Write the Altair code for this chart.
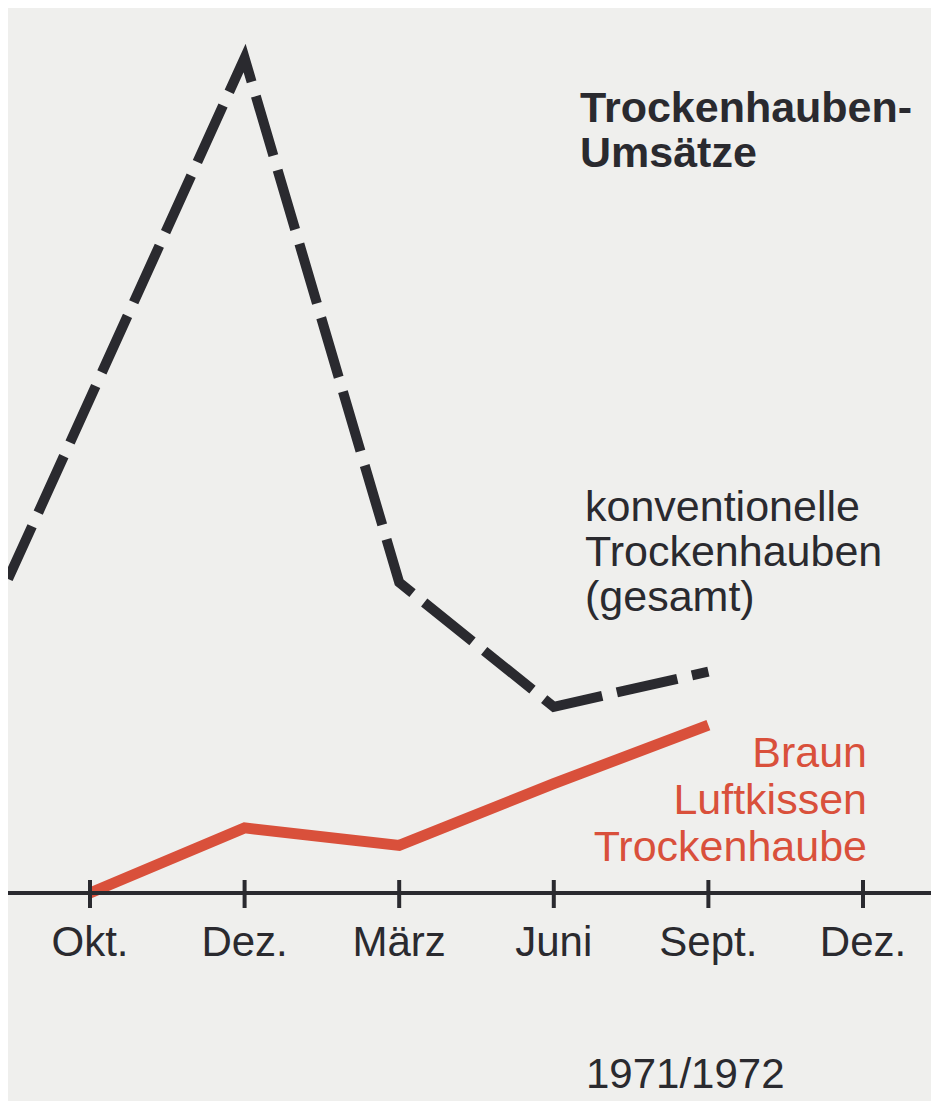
import altair as alt
import pandas as pd

# ---- data (0 = axis line, 100 = Dez peak) ----
tick_pos = [0, 1, 2, 3, 4, 5]
tick_labels = ["Okt.", "Dez.", "März", "Juni", "Sept.", "Dez."]

conv_x = [-0.53, 1, 2, 3, 4]
conv_y = [37.6, 100.0, 37.2, 22.3, 26.5]

braun_x = [0, 1, 2, 3, 4]
braun_y = [0.0, 7.8, 5.7, 13.1, 20.1]

title_lines = ["Trockenhauben-", "Umsätze"]
conv_lines = ["konventionelle", "Trockenhauben", "(gesamt)"]
braun_lines = ["Braun", "Luftkissen", "Trockenhaube"]
year_label = "1971/1972"

W, H = 923, 1093
DARK = "#2a2a2f"
RED = "#d9503b"
FONT = "Liberation Sans"

xs = alt.Scale(domain=[-0.5304, 5.440], nice=False, zero=False)
ys = alt.Scale(domain=[-24.91, 105.99], nice=False, zero=False)

conv_df = pd.DataFrame({"x": conv_x, "y": conv_y})
braun_df = pd.DataFrame({"x": braun_x, "y": braun_y})
tick_df = pd.DataFrame({"x": tick_pos, "label": tick_labels})

X = lambda: alt.X("x:Q", scale=xs, axis=None)
Y = lambda: alt.Y("y:Q", scale=ys, axis=None)

axis_line = alt.Chart(pd.DataFrame({"y": [0]})).mark_rule(
    color=DARK, strokeWidth=4
).encode(x=alt.value(0), x2=alt.value(W), y=alt.Y("y:Q", scale=ys, axis=None))

ticks = alt.Chart(tick_df).mark_rule(color=DARK, strokeWidth=4).encode(
    x=X(), y=alt.value(872), y2=alt.value(900)
)

tick_text = alt.Chart(tick_df).mark_text(
    font=FONT, fontSize=42, color=DARK, align="center", baseline="alphabetic"
).encode(x=X(), y=alt.value(948), text="label:N")

conv_line = alt.Chart(conv_df).mark_line(
    color=DARK, strokeWidth=10, strokeDash=[62, 15], strokeDashOffset=4,
    strokeCap="butt", strokeJoin="miter", clip=True
).encode(x=X(), y=Y())

braun_line = alt.Chart(braun_df).mark_line(
    color=RED, strokeWidth=11, strokeCap="butt", strokeJoin="miter"
).encode(x=X(), y=Y())


def text_block(lines, x, ys_, size, color, weight="normal", align="left"):
    layers = []
    for t, yy in zip(lines, ys_):
        layers.append(
            alt.Chart(pd.DataFrame({"t": [t]})).mark_text(
                font=FONT, fontSize=size, color=color, fontWeight=weight,
                align=align, baseline="alphabetic"
            ).encode(x=alt.value(x), y=alt.value(yy), text="t:N")
        )
    return layers


texts = []
texts += text_block(title_lines, 572, [114, 159], 43, DARK, weight="bold")
texts += text_block(conv_lines, 577, [513, 558, 603], 43, DARK)
texts += text_block(braun_lines, 859, [759, 806, 853], 43, RED, align="right")
texts += text_block([year_label], 578, [1080], 42, DARK)

chart = alt.layer(
    conv_line, braun_line, axis_line, ticks, tick_text, *texts
).properties(
    width=W, height=H, padding=0, background="white",
    autosize=alt.AutoSizeParams(type="none")
).configure_view(fill="#efefed", stroke=None)

chart.save("out.html", embed_options={"renderer": "svg", "actions": False})
